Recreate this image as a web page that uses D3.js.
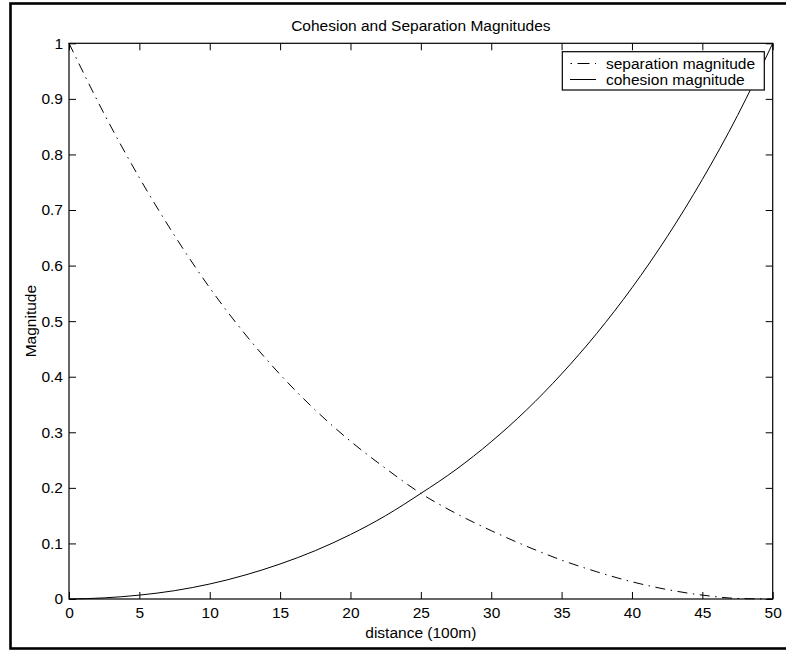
<!DOCTYPE html>
<html>
<head>
<meta charset="utf-8">
<script src="https://cdn.jsdelivr.net/npm/d3@7"></script>
<style>
  html, body { margin: 0; padding: 0; background: #fff; }
  svg { display: block; }
  text { font-family: "Liberation Sans", Arial, Helvetica, sans-serif; fill: #000; }
</style>
</head>
<body>
<svg id="chart" width="786" height="651"></svg>
<script>
// ---- data ----
const distance = [0, 2.5, 5, 7.5, 10, 12.5, 15, 17.5, 20, 22.5, 25, 27.5, 30, 32.5, 35, 37.5, 40, 42.5, 45, 47.5, 50];
const separation = [1.0, 0.873, 0.758, 0.654, 0.560, 0.477, 0.404, 0.340, 0.284, 0.235, 0.190, 0.154, 0.123, 0.095, 0.070, 0.049, 0.031, 0.017, 0.007, 0.001, 0.0];
const cohesion   = [0.0, 0.002, 0.007, 0.015, 0.027, 0.043, 0.063, 0.087, 0.116, 0.150, 0.190, 0.233, 0.283, 0.340, 0.405, 0.478, 0.560, 0.652, 0.755, 0.870, 1.0];
const xTicks = [0, 5, 10, 15, 20, 25, 30, 35, 40, 45, 50];
const yTicks = [0, 0.1, 0.2, 0.3, 0.4, 0.5, 0.6, 0.7, 0.8, 0.9, 1];
const seriesNames = ["separation magnitude", "cohesion magnitude"];
const titleText = "Cohesion and Separation Magnitudes";
const xLabelText = "distance (100m)";
const yLabelText = "Magnitude";

// ---- layout ----
const svg = d3.select("#chart");
const L = 69, R = 772.7, T = 43.3, B = 599;
const fs = 15.5;
const dashDot = "10,5.5,1.5,5.5";

// outer figure border
svg.append("rect").attr("x", 10.5).attr("y", 3.5).attr("width", 790).attr("height", 645)
  .attr("fill", "none").attr("stroke", "#000").attr("stroke-width", 2.6);

const x = d3.scaleLinear().domain([0, 50]).range([L, R]);
const y = d3.scaleLinear().domain([0, 1]).range([B, T]);

const tickFmtY = d => d === 0 ? "0" : (d === 1 ? "1" : d3.format(".1f")(d));

// bottom axis (ticks inward)
const gx = svg.append("g").attr("transform", `translate(0,${B})`)
  .call(d3.axisBottom(x).tickValues(xTicks).tickSizeInner(-7).tickSizeOuter(0).tickPadding(8).tickFormat(d3.format("d")));
// top axis ticks
const gxt = svg.append("g").attr("transform", `translate(0,${T})`)
  .call(d3.axisTop(x).tickValues(xTicks).tickSizeInner(-7).tickSizeOuter(0).tickFormat(""));
// left axis
const gy = svg.append("g").attr("transform", `translate(${L},0)`)
  .call(d3.axisLeft(y).tickValues(yTicks).tickSizeInner(-7).tickSizeOuter(0).tickPadding(6).tickFormat(tickFmtY));
// right axis ticks
const gyr = svg.append("g").attr("transform", `translate(${R},0)`)
  .call(d3.axisRight(y).tickValues(yTicks).tickSizeInner(-7).tickSizeOuter(0).tickFormat(""));

[gx, gxt, gy, gyr].forEach(g => {
  g.select(".domain").remove();
  g.selectAll(".tick line").attr("stroke", "#000").attr("stroke-width", 1);
  g.selectAll("text").attr("font-size", fs).attr("font-family", "Liberation Sans, Arial, sans-serif").attr("fill", "#000");
});
gx.selectAll("text").attr("dy", "0.71em");

// axes box
svg.append("rect").attr("x", L).attr("y", T).attr("width", R - L).attr("height", B - T)
  .attr("fill", "none").attr("stroke", "#000").attr("stroke-width", 1.2);

// curves
const line = d3.line().x((d, i) => x(distance[i])).y(d => y(d)).curve(d3.curveMonotoneX);
svg.append("path").datum(separation).attr("d", line)
  .attr("fill", "none").attr("stroke", "#000").attr("stroke-width", 1).attr("stroke-dasharray", dashDot);
svg.append("path").datum(cohesion).attr("d", line)
  .attr("fill", "none").attr("stroke", "#000").attr("stroke-width", 1);

// title and axis labels
svg.append("text").attr("x", (L + R) / 2).attr("y", 31).attr("text-anchor", "middle")
  .attr("font-size", fs).text(titleText);
svg.append("text").attr("x", (L + R) / 2).attr("y", 638).attr("text-anchor", "middle")
  .attr("font-size", fs).text(xLabelText);
svg.append("text").attr("transform", `translate(36,${(T + B) / 2}) rotate(-90)`).attr("text-anchor", "middle")
  .attr("font-size", fs).text(yLabelText);

// legend
const lg = svg.append("g");
lg.append("rect").attr("x", 562.3).attr("y", 51.7).attr("width", 202).attr("height", 38.3)
  .attr("fill", "#fff").attr("stroke", "#000").attr("stroke-width", 1.2);
const rowsY = [63.5, 79.5];
lg.append("line").attr("x1", 570.5).attr("x2", 596).attr("y1", rowsY[0]).attr("y2", rowsY[0])
  .attr("stroke", "#000").attr("stroke-width", 1).attr("stroke-dasharray", "1.5,5.5,12,5.5");
lg.append("line").attr("x1", 570).attr("x2", 596).attr("y1", rowsY[1]).attr("y2", rowsY[1])
  .attr("stroke", "#000").attr("stroke-width", 1);
seriesNames.forEach((n, i) => {
  lg.append("text").attr("x", 606).attr("y", rowsY[i]).attr("dy", "0.35em")
    .attr("font-size", fs).text(n);
});
</script>
</body>
</html>
